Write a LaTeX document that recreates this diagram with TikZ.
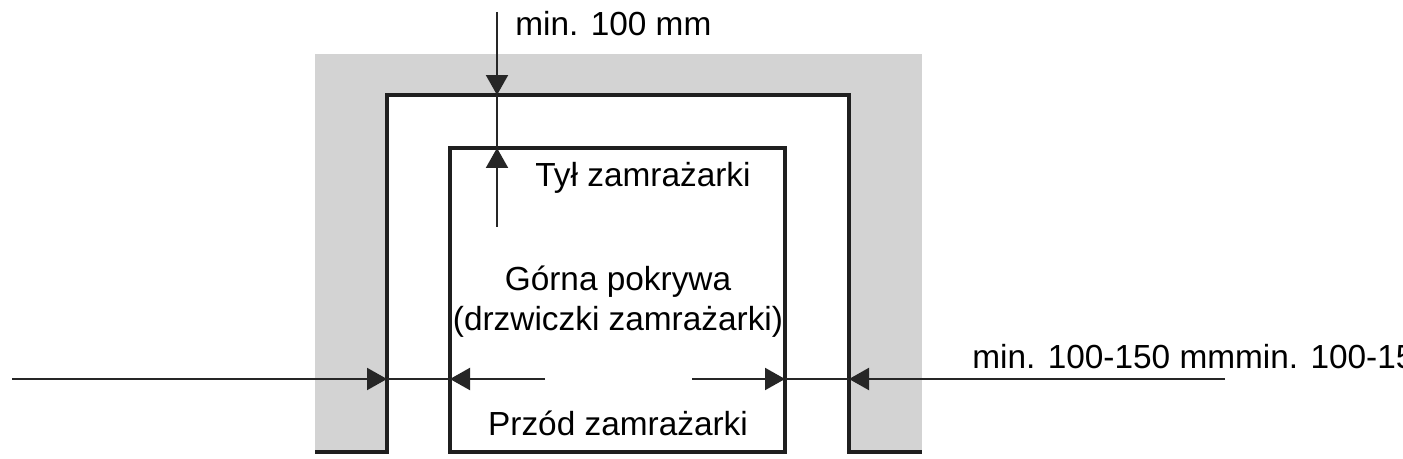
\documentclass[tikz,border=0pt]{standalone}
\usepackage{fontspec}
\setmainfont{Liberation Sans}
\usetikzlibrary{arrows.meta,positioning}
\begin{document}
\begin{tikzpicture}[x=0.02cm,y=-0.02cm,
  wall/.style={line width=2.4pt,draw=black!88},
  dim/.style={line width=1.2pt,draw=black!85},
  dimarr/.style={dim,-{Triangle[length=0.4cm,width=0.44cm]}},
  lbl/.style={inner sep=0pt,anchor=base,font=\fontsize{19}{22.5}\selectfont}]
\definecolor{wallgray}{HTML}{D3D3D3}
\useasboundingbox (0,0) rectangle (1403,459);
% niche in the wall
\fill[wallgray] (315,54) rectangle (922,452);
\fill[white] (387,95) rectangle (849,452);
\draw[wall] (315,452) -- (387,452) -- (387,95) -- (849,95) -- (849,452) -- (922,452);
% freezer seen from above
\draw[wall] (450,148) rectangle (785,452);

% points on the walls
\coordinate (wallL) at (387,379);
\coordinate (boxL) at (450,379);
\coordinate (boxR) at (785,379);
\coordinate (wallR) at (849,379);
\coordinate (wallT) at (497,95);
\coordinate (boxT) at (497,148);
% free ends of the dimension lines
\coordinate (farL) at (12,379);
\coordinate (midL) at (545,379);
\coordinate (midR) at (692,379);
\coordinate (farR) at (1225,379);
\coordinate (farT) at (497,12);
\coordinate (midT) at (497,227);

% top gap
\draw[dimarr] (farT) -- (wallT);
\draw[dim] (wallT) -- (boxT);
\draw[dimarr] (midT) -- (boxT);
% side gaps
\draw[dimarr] (farL) -- (wallL);
\draw[dim] (wallL) -- (boxL);
\draw[dimarr] (midL) -- (boxL);
\draw[dimarr] (midR) -- (boxR);
\draw[dim] (boxR) -- (wallR);
\draw[dimarr] (farR) -- (wallR);

% labels
\node[lbl,anchor=base west] (gapT) at (515,36) {min. 100 mm};
\node[lbl] (back) at (643,187) {Tył zamrażarki};
\node[lbl,align=center] (lid) at (618,330) {Górna pokrywa\\(drzwiczki zamrażarki)};
\node[lbl] (front) at (618,435) {Przód zamrażarki};
\node[lbl,anchor=base west] (gapS) at (972,368) {min. 100-150 mmmin. 100-150 mm};
\end{tikzpicture}
\end{document}
